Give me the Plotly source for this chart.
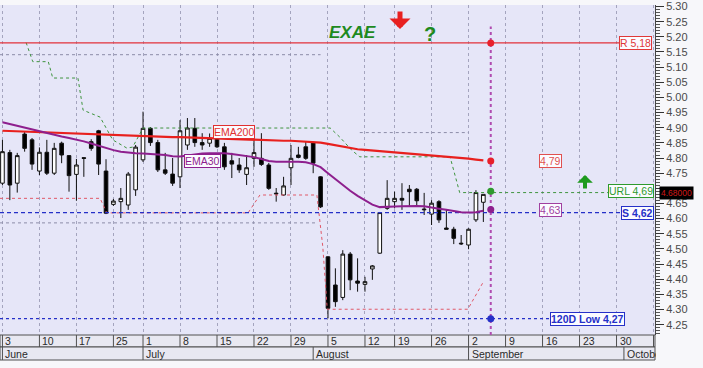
import plotly.graph_objects as go

# ---------------- data ----------------
day_index = list(range(66))
opens = [4.717, 4.818, 4.717, 4.879, 4.860, 4.757, 4.819, 4.750, 4.849, 4.808,
         4.746, 4.801, 4.854, 4.890, 4.757, 4.647, 4.656, 4.645, 4.695, 4.794,
         4.898, 4.851, 4.761, 4.747, 4.738, 4.843, 4.898, 4.851, 4.849, 4.865,
         4.837, 4.791, 4.777, 4.746, 4.799, 4.799, 4.777, 4.684, 4.678, 4.768,
         4.810, 4.837, 4.851, 4.738, 4.474, 4.381, 4.340, 4.483, 4.394, 4.383,
         4.434, 4.486, 4.634, 4.656, 4.667, 4.697, 4.697, 4.629, 4.615, 4.656,
         4.569, 4.565, 4.519, 4.513, 4.596, 4.654]
highs = [4.860, 4.827, 4.817, 4.887, 4.866, 4.835, 4.860, 4.850, 4.854, 4.810,
         4.797, 4.803, 4.862, 4.893, 4.796, 4.665, 4.701, 4.754, 4.843, 4.953,
         4.902, 4.860, 4.817, 4.800, 4.925, 4.932, 4.932, 4.882, 4.881, 4.882,
         4.850, 4.817, 4.800, 4.810, 4.882, 4.882, 4.784, 4.701, 4.738, 4.843,
         4.837, 4.854, 4.854, 4.740, 4.476, 4.436, 4.496, 4.490, 4.469, 4.408,
         4.447, 4.622, 4.727, 4.689, 4.717, 4.711, 4.701, 4.685, 4.661, 4.661,
         4.629, 4.573, 4.546, 4.568, 4.694, 4.680]
lows = [4.711, 4.661, 4.686, 4.821, 4.761, 4.744, 4.744, 4.744, 4.783, 4.689,
        4.659, 4.738, 4.824, 4.744, 4.615, 4.642, 4.602, 4.629, 4.675, 4.787,
        4.840, 4.754, 4.744, 4.708, 4.701, 4.827, 4.837, 4.827, 4.837, 4.833,
        4.761, 4.734, 4.751, 4.711, 4.771, 4.774, 4.695, 4.656, 4.675, 4.711,
        4.799, 4.794, 4.750, 4.635, 4.271, 4.309, 4.331, 4.364, 4.359, 4.359,
        4.398, 4.484, 4.629, 4.634, 4.629, 4.639, 4.639, 4.612, 4.579, 4.586,
        4.565, 4.516, 4.513, 4.499, 4.589, 4.589]
closes = [4.821, 4.711, 4.808, 4.832, 4.780, 4.819, 4.750, 4.832, 4.810, 4.742,
          4.777, 4.799, 4.832, 4.780, 4.618, 4.658, 4.667, 4.747, 4.836, 4.898,
          4.851, 4.761, 4.750, 4.717, 4.890, 4.899, 4.851, 4.843, 4.865, 4.837,
          4.771, 4.780, 4.761, 4.768, 4.818, 4.779, 4.700, 4.682, 4.708, 4.799,
          4.802, 4.799, 4.783, 4.639, 4.304, 4.326, 4.483, 4.398, 4.387, 4.392,
          4.444, 4.620, 4.667, 4.667, 4.661, 4.689, 4.659, 4.631, 4.651, 4.596,
          4.565, 4.535, 4.517, 4.565, 4.686, 4.680]
ema30 = [4.918, 4.912, 4.906, 4.900, 4.893, 4.887, 4.881, 4.876, 4.871, 4.866,
         4.861, 4.855, 4.848, 4.840, 4.833, 4.826, 4.821, 4.818, 4.816, 4.815,
         4.814, 4.813, 4.810, 4.806, 4.805, 4.808, 4.812, 4.815, 4.816, 4.817,
         4.816, 4.813, 4.810, 4.806, 4.803, 4.797, 4.790, 4.788, 4.787, 4.788,
         4.788, 4.786, 4.780, 4.770, 4.750, 4.730, 4.710, 4.692, 4.675, 4.660,
         4.646, 4.638, 4.638, 4.640, 4.641, 4.642, 4.642, 4.641, 4.638, 4.633,
         4.629, 4.624, 4.621, 4.620, 4.621, 4.626]
ema200 = [4.890, 4.889, 4.888, 4.888, 4.887, 4.886, 4.885, 4.884, 4.884, 4.883,
          4.882, 4.881, 4.880, 4.879, 4.878, 4.877, 4.876, 4.875, 4.874, 4.873,
          4.872, 4.871, 4.870, 4.869, 4.869, 4.868, 4.867, 4.866, 4.865, 4.864,
          4.863, 4.862, 4.862, 4.861, 4.860, 4.860, 4.859, 4.858, 4.857, 4.857,
          4.856, 4.855, 4.854, 4.851, 4.847, 4.842, 4.837, 4.832, 4.829, 4.827,
          4.825, 4.823, 4.821, 4.819, 4.817, 4.815, 4.813, 4.811, 4.810, 4.808,
          4.806, 4.804, 4.801, 4.798, 4.795, 4.792]

# trailing stop lines (x in trading-day index, y in price)
upper_trail_x = [3.2, 4.1, 6.2, 6.8, 10.2, 10.9, 13.2, 14.9, 16.8, 17.6, 19.0,
                 44.3, 45.6, 47.2, 48.3, 60.5, 61.8, 82.0]
upper_trail_y = [5.181, 5.118, 5.118, 5.064, 5.064, 4.958, 4.935, 4.860, 4.833,
                 4.836, 4.899, 4.899, 4.869, 4.826, 4.804, 4.804, 4.686, 4.686]
lower_trail_x = [-0.33, 13.2, 14.1, 33.2, 34.8, 42.5, 43.3, 43.9, 62.9, 64.9]
lower_trail_y = [4.667, 4.667, 4.619, 4.619, 4.678, 4.678, 4.507, 4.301, 4.301, 4.387]

# grey dotted channel segments
dotted_y = [5.141, 4.586, 4.884]
dotted_from = [-0.33, -0.33, 48.3]
dotted_to = [43.0, 42.5, 63.0]

# levels
R_level = 5.18
S_level = 4.62
low_120d = 4.27
url_level = 4.69
ema30_last = 4.63
ema200_last = 4.79
last_price = 4.68
signal_idx = 66
signal_top = 5.234

# axes labels
week_start_idx = [0, 5, 10, 15, 19, 24, 29, 34, 39, 44, 49, 53, 58, 63, 68, 73, 78, 83, 88]
week_labels = ['3', '10', '17', '25', '1', '8', '15', '22', '29', '5', '12', '19', '26',
               '2', '9', '16', '23', '30', '']
month_start_idx = [0, 19, 42, 63, 84]
month_labels = ['June', 'July', 'August', 'September', 'October']
y_tick_vals = [4.25, 4.30, 4.35, 4.40, 4.45, 4.50, 4.55, 4.60, 4.65, 4.70, 4.75,
               4.80, 4.85, 4.90, 4.95, 5.00, 5.05, 5.10, 5.15, 5.20, 5.25, 5.30]
# the 4.70 label is hidden behind the last-price tag in the reference
y_tick_text = ['%.2f' % v if abs(v - 4.70) > 1e-9 else '' for v in y_tick_vals]

# ---------------- layout constants ----------------
X0, X1 = -0.33, 88.2
Y0, Y1 = 4.216, 5.305
W, H = 703, 368
ML, MR, MT, MB = 0, 48, 5, 33
PH = H - MT - MB          # plot height in px
PW = W - ML - MR


def py(px):          # pixel row -> paper y
    return (H - MB - px) / PH


def pxr(px):         # pixel col -> paper x
    return px / PW


FONT = 'Arial, "Liberation Sans", sans-serif'
RED = '#E2303A'
GREEN = '#2E9A2E'
PURPLE = '#8E1F8E'
BLUE = '#2530C8'

fig = go.Figure()

# dotted grey segments
for yv, a, b in zip(dotted_y, dotted_from, dotted_to):
    fig.add_trace(go.Scatter(x=[a, b], y=[yv, yv], mode='lines',
                             line=dict(color='#8C8CA8', width=1, dash='dot'),
                             hoverinfo='skip'))

# trailing lines
fig.add_trace(go.Scatter(x=upper_trail_x, y=upper_trail_y, mode='lines',
                         line=dict(color='#3E943E', width=1, dash='3px,3px'),
                         hoverinfo='skip'))
fig.add_trace(go.Scatter(x=lower_trail_x, y=lower_trail_y, mode='lines',
                         line=dict(color='#E05868', width=1, dash='3px,3px'),
                         hoverinfo='skip'))

# level lines
fig.add_trace(go.Scatter(x=[X0, 84], y=[R_level, R_level], mode='lines',
                         line=dict(color=RED, width=1.4), hoverinfo='skip'))
fig.add_trace(go.Scatter(x=[X0, 86], y=[S_level, S_level], mode='lines',
                         line=dict(color=BLUE, width=1.2, dash='4px,3px'),
                         hoverinfo='skip'))
fig.add_trace(go.Scatter(x=[X0, 75], y=[low_120d, low_120d], mode='lines',
                         line=dict(color=BLUE, width=1.2, dash='3px,3px'),
                         hoverinfo='skip'))

# candles
fig.add_trace(go.Candlestick(
    x=day_index, open=opens, high=highs, low=lows, close=closes,
    increasing=dict(line=dict(color='#101010', width=1), fillcolor='white'),
    decreasing=dict(line=dict(color='#101010', width=1), fillcolor='#000000'),
    whiskerwidth=0, hoverinfo='skip'))

# EMAs
fig.add_trace(go.Scatter(x=day_index, y=ema200, mode='lines',
                         line=dict(color='#E8201E', width=2.2), hoverinfo='skip'))
fig.add_trace(go.Scatter(x=day_index, y=ema30, mode='lines',
                         line=dict(color=PURPLE, width=2), hoverinfo='skip'))

# signal vertical line
fig.add_trace(go.Scatter(x=[signal_idx, signal_idx], y=[Y0, signal_top], mode='lines',
                         line=dict(color='#B04CB0', width=2, dash='dot'),
                         hoverinfo='skip'))
fig.add_trace(go.Scatter(
    x=[signal_idx] * 5,
    y=[R_level, ema200_last, url_level, ema30_last, low_120d],
    mode='markers',
    marker=dict(size=7, color=['#E8202A', '#E8202A', GREEN, PURPLE, BLUE]),
    hoverinfo='skip'))

annotations = []


def box(text, x, y, color, xanchor='right', bold=False, xref='paper', yref='y'):
    t = '<b>%s</b>' % text if bold else text
    annotations.append(dict(text=t, x=x, y=y, xref=xref, yref=yref, xanchor=xanchor,
                            yanchor='middle', showarrow=False,
                            font=dict(family=FONT, size=10.5, color=color),
                            bgcolor='#FBFBFF', bordercolor=color, borderwidth=1,
                            borderpad=0))


box('R 5,18', pxr(652), R_level, '#E03838')
box('4,79', pxr(550), ema200_last, '#E05050', xanchor='center')
box('URL 4,69', pxr(654), url_level, GREEN)
box('4,63', pxr(550), ema30_last, '#A040A0', xanchor='center')
box('S 4,62', pxr(654), S_level, BLUE, bold=True)
box('120D Low 4,27', pxr(625), low_120d, BLUE, bold=True)
box('EMA200', 31.3, 4.886, '#E03030', xanchor='center', xref='x')
box('EMA30', 27.0, 4.789, PURPLE, xanchor='center', xref='x')

# last price tag on the axis
annotations.append(dict(text='4.68000', x=1.0, y=last_price, xref='paper', yref='y',
                        xanchor='left', yanchor='middle', xshift=4, yshift=1, showarrow=False,
                        font=dict(family=FONT, size=8.5, color='#D01818'),
                        bgcolor='#000000', borderpad=1))

# title and signs
annotations.append(dict(text='<b><i>EXAE</i></b>', x=pxr(352), y=py(21), xref='paper',
                        yref='paper', showarrow=False,
                        font=dict(family=FONT, size=17, color='#1E8A1E')))
annotations.append(dict(text='<b>?</b>', x=pxr(430), y=py(21), xref='paper', yref='paper',
                        showarrow=False, font=dict(family=FONT, size=20, color='#1E8A1E')))
annotations.append(dict(text='', x=pxr(400), y=py(29), xref='paper', yref='paper',
                        showarrow=True, ax=0, ay=-19, arrowhead=1, arrowsize=0.7,
                        arrowwidth=5, arrowcolor='#E82020', standoff=0))
annotations.append(dict(text='', x=pxr(585), y=py(175), xref='paper', yref='paper',
                        showarrow=True, ax=0, ay=15, arrowhead=1, arrowsize=0.65,
                        arrowwidth=4, arrowcolor='#1E9A1E', standoff=0))

# date rows
shapes = []
r1_top, r1_bot, r2_bot = 0.0, py(347), py(360)
shapes.append(dict(type='rect', xref='paper', yref='paper', x0=0, x1=1, y0=r1_bot, y1=r1_top,
                   fillcolor='#E8E8F1', line=dict(color='#505050', width=1), layer='below'))
shapes.append(dict(type='rect', xref='paper', yref='paper', x0=0, x1=1, y0=r2_bot, y1=r1_bot,
                   fillcolor='#E8E8F1', line=dict(color='#505050', width=1), layer='below'))
for wi, lab in zip(week_start_idx, week_labels):
    shapes.append(dict(type='line', xref='x', yref='paper', x0=wi, x1=wi, y0=r1_bot, y1=r1_top,
                       line=dict(color='#505050', width=1)))
    if lab:
        annotations.append(dict(text=lab, x=wi, y=(r1_top + r1_bot) / 2, xref='x', yref='paper',
                                xanchor='left', yanchor='middle', xshift=1, showarrow=False,
                                font=dict(family=FONT, size=10.5, color='#2A2A2A')))
for mi, lab in zip(month_start_idx, month_labels):
    shapes.append(dict(type='line', xref='x', yref='paper', x0=mi, x1=mi, y0=r2_bot, y1=r1_bot,
                       line=dict(color='#505050', width=1)))
    ann = dict(text=lab, x=mi, y=(r1_bot + r2_bot) / 2, xref='x', yref='paper',
               xanchor='left', yanchor='middle', xshift=1, showarrow=False, align='left',
               font=dict(family=FONT, size=10.5, color='#2A2A2A'))
    if mi == month_start_idx[-1]:
        ann['width'] = (X1 - mi) * PW / (X1 - X0) - 2
    annotations.append(ann)

fig.update_layout(
    width=W, height=H,
    margin=dict(l=ML, r=MR, t=MT, b=MB, pad=0),
    plot_bgcolor='#E6E6F8', paper_bgcolor='#F7F7FA',
    showlegend=False,
    font=dict(family=FONT, size=11, color='#444'),
    xaxis=dict(range=[X0, X1], tickvals=week_start_idx, showticklabels=False, ticks='',
               showgrid=True, gridcolor='#A4A4BE', griddash='dot', gridwidth=1,
               zeroline=False, showline=False, rangeslider=dict(visible=False)),
    yaxis=dict(range=[Y0, Y1], side='right', tickvals=y_tick_vals, ticktext=y_tick_text,
               ticks='outside', ticklen=8, tickcolor='#333', showline=True,
               linecolor='#444', linewidth=1, showgrid=False, zeroline=False,
               tickfont=dict(family=FONT, size=11, color='#4A4A4A'),
               minor=dict(dtick=0.01, tick0=4.25, ticks='outside', ticklen=4,
                          tickcolor='#555', showgrid=False)),
    annotations=annotations,
    shapes=shapes,
)

fig.write_html('out.html')
